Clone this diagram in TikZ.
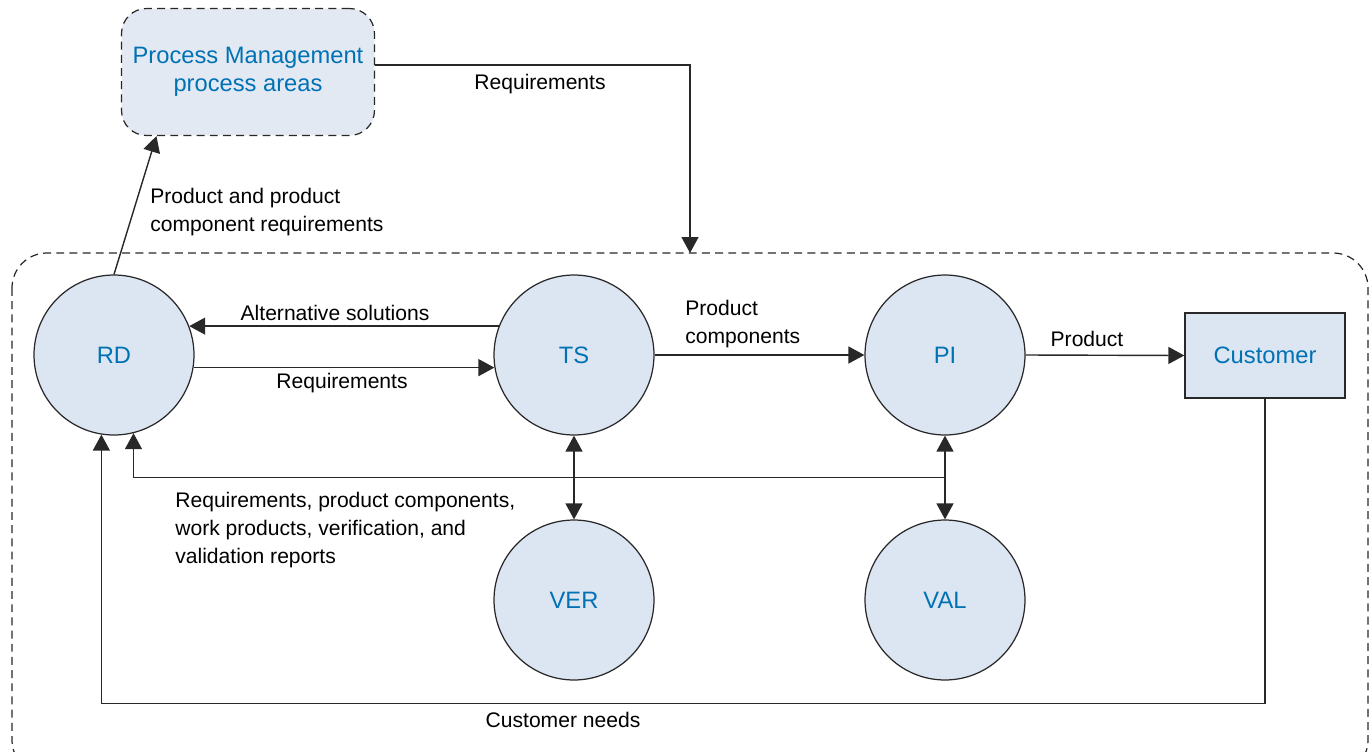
\documentclass[tikz,border=0pt]{standalone}
\usepackage{fontspec}
\setmainfont{Liberation Sans}
\usepackage{xcolor}
\usetikzlibrary{shapes.geometric, arrows.meta, shapes, calc}
\definecolor{areablue}{RGB}{0,114,180}
\definecolor{areafill}{RGB}{220,230,242}
\definecolor{pmfill}{RGB}{227,233,243}
\definecolor{linegray}{RGB}{40,40,40}
\tikzstyle{area} = [circle, minimum size=3.2cm, inner sep=0pt, draw=linegray, line width=0.7pt, fill=areafill, text=areablue, font=\fontsize{13.5}{16}\selectfont]
\tikzstyle{pmbox} = [rectangle, rounded corners=0.5cm, minimum width=5.06cm, minimum height=2.54cm, align=center, draw=linegray, dash pattern=on 4.5pt off 3pt, line width=0.7pt, fill=pmfill, text=areablue, font=\fontsize{13.5}{16}\selectfont]
\tikzstyle{extbox} = [rectangle, minimum width=3.2cm, minimum height=1.7cm, inner sep=0pt, draw=linegray, line width=0.8pt, fill=areafill, text=areablue, font=\fontsize{13.5}{16}\selectfont]
\tikzstyle{lbl} = [inner sep=0pt, align=left, font=\fontsize{12}{15.9}\selectfont]
\tikzstyle{arrow} = [line width=0.8pt, draw=linegray, -{Triangle[length=0.32cm, width=0.34cm]}]
\tikzstyle{dblarrow} = [line width=0.8pt, draw=linegray, {Triangle[length=0.32cm, width=0.34cm]}-{Triangle[length=0.32cm, width=0.34cm]}]

\begin{document}
\begin{tikzpicture}[x=0.02cm, y=-0.02cm]

\clip (0, 0) rectangle (1370, 751);

% engineering area
\draw [linegray, line width=0.7pt, dash pattern=on 4.5pt off 3pt, rounded corners=0.7cm] (12, 253) rectangle (1368, 775);
\coordinate (engtop) at (690, 253);

\node at (248, 72) (pm) [pmbox] {Process Management\\process areas};

\node at (114, 355) (rd) [area] {RD};
\node at (574, 355) (ts) [area] {TS};
\node at (945, 355) (pi) [area] {PI};
\node at (574, 600) (ver) [area] {VER};
\node at (945, 600) (val) [area] {VAL};
\node at (1265, 355.5) (customer) [extbox] {Customer};

\coordinate (vjoin) at ($(pi.south)!0.5!(val.north)$);

\draw [arrow] (rd.north) -- (pm.215);
\draw [arrow] ([yshift=0.14cm]pm.east) -| (engtop);
\draw [arrow] (ts.159) -- (rd.21);
\draw [arrow] (rd.-9) -- (ts.189);
\draw [arrow] (ts.east) -- (pi.west);
\draw [arrow] (pi.east) -- (customer.west);
\draw [dblarrow] (ts.south) -- (ver.north);
\draw [dblarrow] (pi.south) -- (val.north);
\draw [arrow] (vjoin) -| (rd.-76);
\draw [arrow] (customer.south) -- ++(0, 305) -| (rd.-99);

\node at (150, 212) (lblpcr) [lbl, anchor=west] {Product and product\\component requirements};
\node at (540, 84) (lblreqtop) [lbl] {Requirements};
\node at (335, 313) (lblalt) [lbl] {Alternative solutions};
\node at (342, 383) (lblreq) [lbl] {Requirements};
\node at (685, 324) (lblcomp) [lbl, anchor=west] {Product\\components};
\node at (1087, 339) (lblprod) [lbl] {Product};
\node at (175, 530) (lblwp) [lbl, anchor=west] {Requirements, product components,\\work products, verification, and\\validation reports};
\node at (563, 720) (lblneeds) [lbl] {Customer needs};

\end{tikzpicture}
\end{document}
